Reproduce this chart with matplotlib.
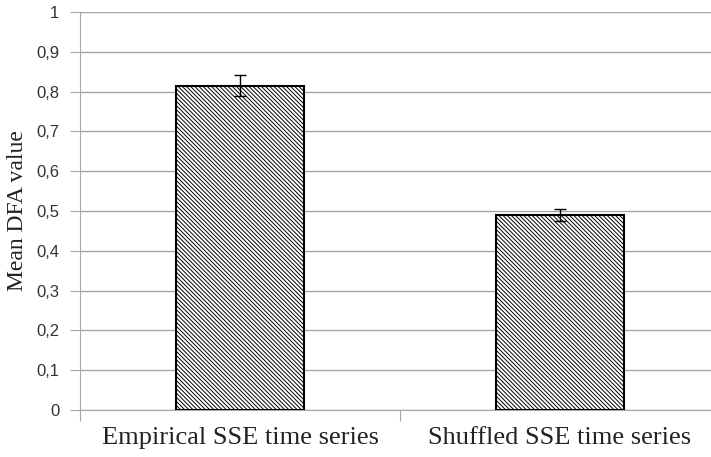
import matplotlib.pyplot as plt
import numpy as np

categories = ['Empirical SSE time series', 'Shuffled SSE time series']
means = [0.815, 0.490]
errors = [0.027, 0.014]
yticks = [0, 0.1, 0.2, 0.3, 0.4, 0.5, 0.6, 0.7, 0.8, 0.9, 1.0]

plt.rcParams['hatch.linewidth'] = 0.7
plt.rcParams['hatch.color'] = '#222222'

fig = plt.figure(figsize=(7.11, 4.57), dpi=100)
W, H = 711, 457
ax = fig.add_axes([80 / W, 1 - 410 / H, 640 / W, 398 / H])

x = np.arange(len(categories))
ax.bar(x, means, width=0.4, color='white', edgecolor='black', linewidth=1.5,
       hatch='\\' * 8, zorder=3)
ax.errorbar(x, means, yerr=errors, fmt='none', ecolor='black', elinewidth=1,
            capsize=4.3, capthick=1, zorder=4)

ax.set_xlim(-0.5, 1.5)
ax.set_ylim(0, 1)
ax.set_yticks(yticks)
ax.set_yticklabels([('%g' % v).replace('.', ',') for v in yticks],
                   fontfamily='Liberation Sans', fontsize=12, color='#333333')
ax.yaxis.grid(True, color='#a6a6a6', linewidth=1, zorder=0)
ax.tick_params(axis='y', length=7, color='#a6a6a6', pad=8)

# category ticks sit at the borders between groups
ax.set_xticks([-0.5, 0.5, 1.5])
ax.set_xticklabels([])
ax.set_xticks(x, minor=True)
ax.set_xticklabels(categories, minor=True, fontfamily='Liberation Serif',
                   fontsize=19, color='#222222')
ax.tick_params(axis='x', which='major', length=8, color='#a6a6a6')
ax.tick_params(axis='x', which='minor', length=0, pad=12)

for side in ['top', 'right']:
    ax.spines[side].set_visible(False)
ax.spines['left'].set_color('#a6a6a6')
ax.spines['bottom'].set_color('#a6a6a6')

ax.set_ylabel('Mean DFA value', fontfamily='Liberation Serif', fontsize=17,
              color='#222222', labelpad=6)

fig.savefig('out.png', dpi=100)
